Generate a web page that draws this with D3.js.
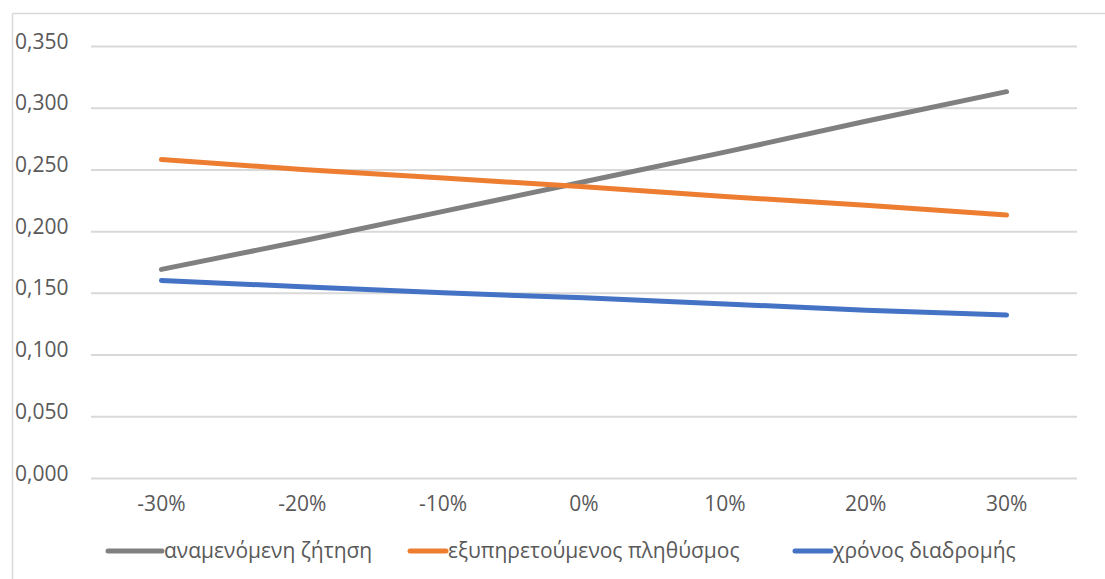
<!DOCTYPE html>
<html>
<head>
<meta charset="utf-8">
<script src="https://cdn.jsdelivr.net/npm/d3@7/dist/d3.min.js"></script>
<style>
  html, body { margin: 0; padding: 0; background: #fff; }
  svg text { font-family: "Open Sans", "Noto Sans", sans-serif; fill: #595959; }
</style>
</head>
<body>
<svg id="chart" width="1105" height="579"></svg>
<script>
// Sensitivity categories (change in parameter)
const categories = ["-30%", "-20%", "-10%", "0%", "10%", "20%", "30%"];

// Series values
const demand     = [0.169, 0.192, 0.216, 0.240, 0.264, 0.289, 0.313]; // αναμενόμενη ζήτηση
const population = [0.258, 0.250, 0.243, 0.236, 0.228, 0.221, 0.213]; // εξυπηρετούμενος πληθύσμος
const travelTime = [0.160, 0.155, 0.150, 0.146, 0.141, 0.136, 0.132]; // χρόνος διαδρομής

// Y axis ticks
const yTicks = [0, 0.05, 0.10, 0.15, 0.20, 0.25, 0.30, 0.35];

const seriesNames  = ["αναμενόμενη ζήτηση", "εξυπηρετούμενος πληθύσμος", "χρόνος διαδρομής"];
const seriesColors = ["#808080", "#ED7D31", "#4472C4"];
const seriesData   = [demand, population, travelTime];

const FONT = "21px";

const svg = d3.select("#chart");

// chart frame (top and left edges)
svg.append("line").attr("x1", 12.5).attr("x2", 1105).attr("y1", 13.5).attr("y2", 13.5)
  .attr("stroke", "#d9d9d9").attr("stroke-width", 1.5);
svg.append("line").attr("x1", 12.5).attr("x2", 12.5).attr("y1", 13.5).attr("y2", 579)
  .attr("stroke", "#d9d9d9").attr("stroke-width", 1.5);

const plot = { left: 91, right: 1077, top: 46, bottom: 478 };

const x = d3.scaleBand().domain(categories).range([plot.left, plot.right]).padding(0);
const y = d3.scaleLinear().domain([0, 0.35]).range([plot.bottom, plot.top]);

const fmt = v => d3.format(".3f")(v).replace(".", ",");

// horizontal gridlines
const yAxis = d3.axisLeft(y).tickValues(yTicks).tickFormat(fmt)
  .tickSize(-(plot.right - plot.left)).tickPadding(0);
const gy = svg.append("g").attr("transform", `translate(${plot.left},0)`).call(yAxis);
gy.select(".domain").remove();
gy.selectAll(".tick line").attr("stroke", "#d9d9d9").attr("stroke-width", 2);
gy.selectAll(".tick text")
  .attr("x", -76).attr("text-anchor", "start")
  .attr("dy", "0.1em")
  .style("font-size", FONT);

// category labels
const xAxis = d3.axisBottom(x).tickSize(0).tickPadding(0);
const gx = svg.append("g").attr("transform", `translate(0,${plot.bottom})`).call(xAxis);
gx.select(".domain").remove();
gx.selectAll(".tick text").attr("y", 30).attr("dy", "0.15em").style("font-size", FONT);

// series lines
const line = d3.line()
  .x((d, i) => x(categories[i]) + x.bandwidth() / 2)
  .y(d => y(d));

seriesData.forEach((vals, k) => {
  svg.append("path")
    .datum(vals)
    .attr("d", line)
    .attr("fill", "none")
    .attr("stroke", seriesColors[k])
    .attr("stroke-width", 5)
    .attr("stroke-linecap", "round")
    .attr("stroke-linejoin", "round");
});

// legend
const legendItems = [
  { x0: 108, x1: 162 },
  { x0: 410, x1: 446 },
  { x0: 795, x1: 831 }
];
const legendY = 551;
legendItems.forEach((it, k) => {
  svg.append("line")
    .attr("x1", it.x0).attr("x2", it.x1)
    .attr("y1", legendY).attr("y2", legendY)
    .attr("stroke", seriesColors[k]).attr("stroke-width", 5)
    .attr("stroke-linecap", "round");
  svg.append("text")
    .attr("x", it.x1 + 2).attr("y", legendY)
    .attr("dy", "0.35em")
    .style("font-size", FONT)
    .text(seriesNames[k]);
});
</script>
</body>
</html>
